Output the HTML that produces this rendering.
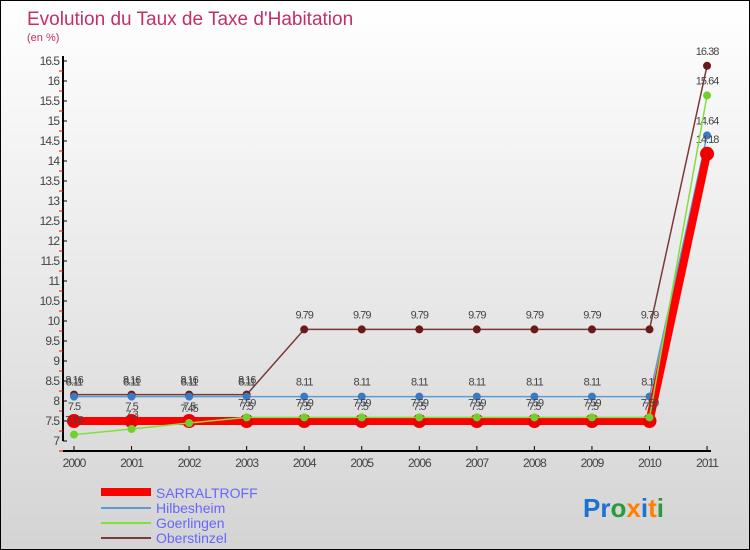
<!DOCTYPE html>
<html><head><meta charset="utf-8"><style>
body{margin:0}
#wrap{width:750px;height:550px;position:relative;box-sizing:border-box;border:1px solid #000;background:linear-gradient(#fff,#d4d4d4);font-family:"Liberation Sans",sans-serif;overflow:hidden}
</style></head><body>
<div id="wrap">
<svg id="svg" width="748" height="548" style="position:absolute;left:0;top:0">
<text x="26" y="24" font-size="19" fill="#c0306a">Evolution du Taux de Taxe d'Habitation</text>
<text x="26" y="40" font-size="11" fill="#c0306a">(en %)</text>
<g id="axes"></g><g id="series"></g>
<g font-size="14">
<rect x="100" y="487" width="50" height="8" fill="#ff0000"/>
<text x="155" y="497" fill="#6666ff">SARRALTROFF</text>
<line x1="100" y1="507" x2="150" y2="507" stroke="#5d9dd3" stroke-width="2"/>
<text x="155" y="512" fill="#6666ff">Hilbesheim</text>
<line x1="100" y1="522" x2="150" y2="522" stroke="#80e040" stroke-width="2"/>
<text x="155" y="527" fill="#6666ff">Goerlingen</text>
<line x1="100" y1="537" x2="150" y2="537" stroke="#7a3a3a" stroke-width="2"/>
<text x="155" y="542" fill="#6666ff">Oberstinzel</text>
</g>
<g font-size="26" font-weight="bold">
<text x="582" y="516"><tspan fill="#1a73d0">Pr</tspan><tspan fill="#2a9a3a">o</tspan><tspan fill="#ff8000">x</tspan><tspan fill="#1a73d0">i</tspan><tspan fill="#ff8000">t</tspan><tspan fill="#2a9a3a">i</tspan></text>
</g>
</svg>
</div>
<script>
const years=["2000","2001","2002","2003","2004","2005","2006","2007","2008","2009","2010","2011"];
const sarraltroff=[7.5,7.5,7.5,7.5,7.5,7.5,7.5,7.5,7.5,7.5,7.5,14.18];
const hilbesheim=[8.11,8.11,8.11,8.11,8.11,8.11,8.11,8.11,8.11,8.11,8.11,14.64];
const goerlingen=[7.16,7.3,7.45,7.59,7.59,7.59,7.59,7.59,7.59,7.59,7.59,15.64];
const oberstinzel=[8.16,8.16,8.16,8.16,9.79,9.79,9.79,9.79,9.79,9.79,9.79,16.38];
const yTicks=["7","7.5","8","8.5","9","9.5","10","10.5","11","11.5","12","12.5","13","13.5","14","14.5","15","15.5","16","16.5"];
const NS="http://www.w3.org/2000/svg";
const xS=i=>73+i*57.55;
const yS=v=>440-(v-7)*40;
function mk(t,a,p){const e=document.createElementNS(NS,t);for(const k in a)e.setAttribute(k,a[k]);p.appendChild(e);return e;}
const ax=document.getElementById('axes');
const yl=mk('line',{x1:62,y1:55,x2:62,y2:440,stroke:'#000','stroke-width':2},ax);


const xl=mk('line',{x1:62,y1:450,x2:710,y2:450,stroke:'#000','stroke-width':2},ax);


yTicks.forEach(t=>{const v=parseFloat(t),y=yS(v);
mk('line',{x1:62,y1:y,x2:66,y2:y,stroke:'#000'},ax);
mk('line',{x1:58,y1:y+10,x2:62,y2:y+10,stroke:'#f00'},ax);
const tx=mk('text',{x:58,y:y+4,'text-anchor':'end','font-size':12,fill:'#444','letter-spacing':'-1'},ax);tx.textContent=t;

});
years.forEach((yr,i)=>{const x=xS(i);
mk('line',{x1:x,y1:445,x2:x,y2:450,stroke:'#000'},ax);
const tx=mk('text',{x:x,y:466,'text-anchor':'middle','font-size':12,fill:'#444','letter-spacing':'-1'},ax);tx.textContent=yr;

});
const sg=document.getElementById('series');
function draw(name,vals,color,w,r,dot){
const g=mk('g',{},sg);


mk('polyline',{points:vals.map((v,i)=>xS(i)+','+yS(v)).join(' '),fill:'none',stroke:color,'stroke-width':w},g);
vals.forEach((v,i)=>{const c=mk('circle',{cx:xS(i),cy:yS(v),r:r,fill:dot},g);


const t=mk('text',{x:xS(i),y:yS(v)-11,'text-anchor':'middle','font-size':11,fill:'#444','letter-spacing':'-1'},g);t.textContent=String(v);

});}
draw('oberstinzel',oberstinzel,'#7a3a3a',1.5,4,'#6a1a1a');
draw('hilbesheim',hilbesheim,'#5d9dd3',1.5,4,'#3a7ac0');
draw('sarraltroff',sarraltroff,'#ff0000',8,7,'#ee0000');
draw('goerlingen',goerlingen,'#80e040',1.5,4,'#70d030');
</script>
</body></html>
